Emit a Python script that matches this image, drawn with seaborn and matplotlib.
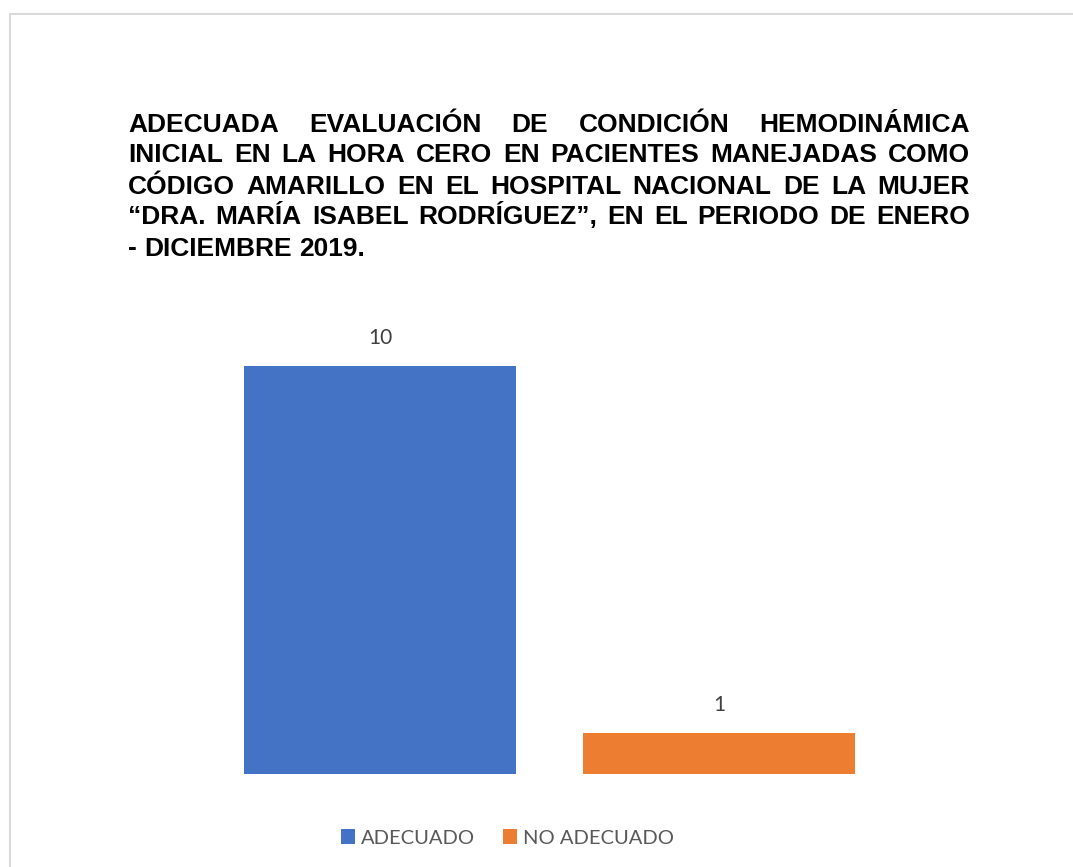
import matplotlib
matplotlib.use("Agg")
import matplotlib.pyplot as plt
from matplotlib.lines import Line2D
from matplotlib.patches import Patch
import seaborn as sns
import pandas as pd

categories = ["ADECUADO", "NO ADECUADO"]
values = [10, 1]
colors = ["#4472C4", "#ED7D31"]
title_lines = [
    "ADECUADA EVALUACIÓN DE CONDICIÓN HEMODINÁMICA",
    "INICIAL EN LA HORA CERO EN PACIENTES MANEJADAS COMO",
    "CÓDIGO AMARILLO EN EL HOSPITAL NACIONAL DE LA MUJER",
    "“DRA. MARÍA ISABEL RODRÍGUEZ”, EN EL PERIODO DE ENERO",
    "- DICIEMBRE 2019.",
]

sns.set_theme(style="white")
plt.rcParams['font.family'] = ['Liberation Sans', 'DejaVu Sans']

W, H = 1073, 867
fig = plt.figure(figsize=(W / 100, H / 100), dpi=100)
fig.patch.set_facecolor("white")

# outer frame (partially visible)
fig.add_artist(Line2D([10 / W, 10 / W], [1 - 14 / H, 0], color="#d9d9d9", lw=1.5))
fig.add_artist(Line2D([10 / W, 1], [1 - 14 / H, 1 - 14 / H], color="#d9d9d9", lw=1.5))

ax = fig.add_axes([210.5 / W, 1 - 774 / H, 678 / W, (774 - 284.4) / H])
df = pd.DataFrame({"cat": categories, "val": values})
sns.barplot(data=df, x="cat", y="val", hue="cat", palette=colors, width=0.8,
            saturation=1, ax=ax, legend=False, linewidth=0)
ax.set_xlim(-0.5, 1.5)
ax.set_ylim(0, 12)
ax.axis("off")
for cont in ax.containers:
    ax.bar_label(cont, labels=[f"{v:g}" for v in cont.datavalues], padding=13,
                 fontsize=15, color="#404040", family=["Lato", "DejaVu Sans"])

# justified bold title
left, right = 128, 970
base0, step = 131.5, 31
fs = 19
renderer = fig.canvas.get_renderer()
for i, line in enumerate(title_lines):
    words = line.split(" ")
    y = 1 - (base0 + i * step) / H
    texts = [fig.text(0, y, w, fontsize=fs, fontweight="bold", color="black",
                      va="baseline", ha="left") for w in words]
    widths = [t.get_window_extent(renderer).width for t in texts]
    if i < len(title_lines) - 1 and len(words) > 1:
        gap = (right - left - sum(widths)) / (len(words) - 1)
    else:
        sp = fig.text(0, 0, "a a", fontsize=fs, fontweight="bold")
        sp2 = fig.text(0, 0, "aa", fontsize=fs, fontweight="bold")
        gap = sp.get_window_extent(renderer).width - sp2.get_window_extent(renderer).width
        sp.remove(); sp2.remove()
    x = left
    for t, w in zip(texts, widths):
        t.set_x(x / W)
        x += w + gap

handles = [Patch(facecolor=c, edgecolor="none", label=l) for c, l in zip(colors, categories)]
fig.legend(handles=handles, loc="center", bbox_to_anchor=(507.5 / W, 1 - 838 / H),
           ncol=2, frameon=False, labelcolor="#595959",
           handlelength=0.7, handleheight=0.7, handletextpad=0.3, columnspacing=1.4,
           prop={"family": ["Lato", "DejaVu Sans"], "size": 14.5})

fig.savefig("out.png", dpi=100, facecolor="white")
